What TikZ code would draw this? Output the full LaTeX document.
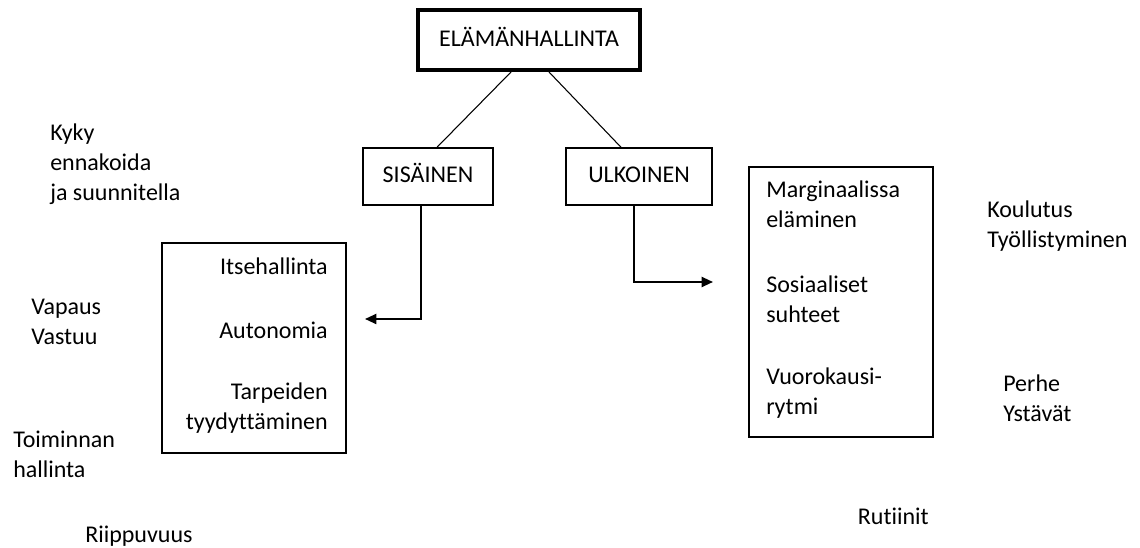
\documentclass[tikz,border=0pt]{standalone}
\usepackage{fontspec}
\setmainfont{Carlito}[Ligatures=NoCommon]
\usetikzlibrary{arrows.meta}

\begin{document}
\begin{tikzpicture}[x=0.75pt, y=-0.75pt,
  every node/.style={font=\fontsize{18pt}{22.5pt}\selectfont, inner sep=0pt},
  box/.style={draw, line width=1.1pt, text height=9.75pt, text depth=0pt},
  link/.style={line width=0.8pt},
  pointer/.style={line width=1.5pt, -{Triangle[length=8.5pt, width=7.5pt]}},
  lbl/.style={anchor=base west, align=left},
  rlbl/.style={anchor=base east, align=right}]
\useasboundingbox (0,0) rectangle (1140,548);
\node[box, line width=3pt, minimum width=166.5pt, minimum height=45pt] (top) at (529,40) {ELÄMÄNHALLINTA};
\node[box, minimum width=97.5pt, minimum height=42.75pt] (sis) at (428,176.5) {SISÄINEN};
\node[box, minimum width=109.5pt, minimum height=42.75pt] (ulk) at (639,176.5) {ULKOINEN};
\node[box, minimum width=138pt, minimum height=157.5pt] (inner) at (254,348) {};
\node[box, minimum width=138pt, minimum height=202.5pt] (outer) at (841,302) {};
\draw[link] ([xshift=-13.5pt]top.south) -- ([xshift=6.75pt]sis.north);
\draw[link] ([xshift=15pt]top.south) -- ([xshift=-13.5pt]ulk.north);
\coordinate (ltip) at (365,319);
\coordinate (rtip) at (713,282);
\draw[pointer] ([xshift=-5.25pt]sis.south) |- (ltip);
\draw[pointer] ([xshift=-3.75pt]ulk.south) |- (rtip);
\node[rlbl] (itse) at (328,275) {Itsehallinta};
\node[rlbl] (auto) at (328,339) {Autonomia};
\node[rlbl] (tarve) at (328,430) {Tarpeiden\\tyydyttäminen};
\node[lbl] (marg) at (766,228) {Marginaalissa\\eläminen};
\node[lbl] (sos) at (766,323) {Sosiaaliset\\suhteet};
\node[lbl] (vuoro) at (766,415) {Vuorokausi-\\rytmi};
\node[lbl] (kyky) at (50,201) {Kyky\\ennakoida\\ja suunnitella};
\node[lbl] (vapaus) at (31,345) {Vapaus\\Vastuu};
\node[lbl] (toim) at (13,478) {Toiminnan\\hallinta};
\node[lbl] (riip) at (85,543) {Riippuvuus};
\node[lbl] (koul) at (987,248) {Koulutus\\Työllistyminen};
\node[lbl] (perhe) at (1003,422) {Perhe\\Ystävät};
\node[rlbl] (rut) at (929,525) {Rutiinit};
\end{tikzpicture}
\end{document}
